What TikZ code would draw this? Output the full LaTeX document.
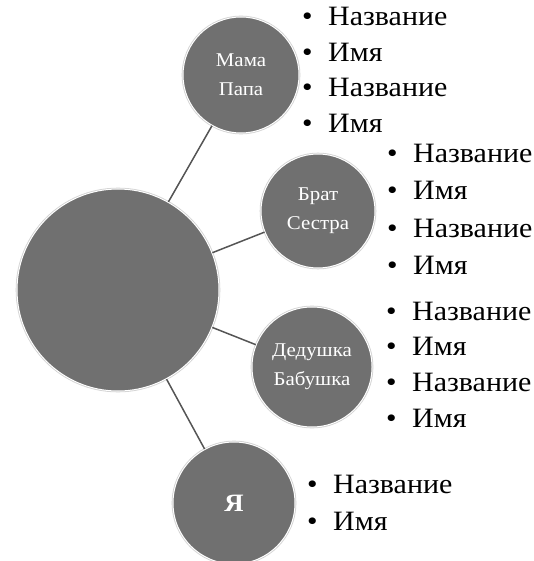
\documentclass[tikz,border=0pt]{standalone}
\usepackage{fontspec}
\setmainfont{Liberation Serif}[FakeStretch=1.07]
\usepackage{tikz}
\usetikzlibrary{positioning}
\definecolor{ballgray}{RGB}{112,112,112}
\definecolor{linkgray}{RGB}{85,85,85}
\tikzset{
  ball/.style={circle, fill=ballgray, draw=white, line width=1pt, inner sep=0pt,
               preaction={draw=black!18, line width=2.6pt}, % soft rim
               text=white, align=center, font=\fontsize{19.5}{29}\selectfont},
  link/.style={draw=linkgray, line width=1.5pt},
  item/.style={anchor=base west, inner sep=0pt, font=\fontsize{28}{36}\selectfont},
}
\newcommand{\bul}[1]{\makebox[26pt][l]{\textbullet}#1}

\begin{document}
\begin{tikzpicture}[x=1pt, y=-1pt]
\useasboundingbox (0,0) rectangle (534,561);
%Nodes
\node[ball, minimum size=202pt] (me0) at (118,290) {};
\node[ball, minimum size=116pt] (parents) at (241,75) {Мама\\Папа};
\node[ball, minimum size=114pt] (siblings) at (318,211) {Брат\\Сестра};
\node[ball, minimum size=120pt] (grand) at (312,367) {Дедушка\\Бабушка};
\node[ball, minimum size=122pt, font=\fontsize{25}{28}\selectfont\bfseries] (me) at (234,503) {Я};

%Lists
\foreach \t [count=\i] in {Название,Имя,Название,Имя}{
  \node[item] (parents\i) at (302, 26+35.5*\i-35.5) {\bul{\t}};
  \node[item] (siblings\i) at (387, 163+37*\i-37) {\bul{\t}};
  \node[item] (grand\i) at (386, 320+35.7*\i-35.7) {\bul{\t}};
}
\node[item] (me1) at (307,493) {\bul{Название}};
\node[item] (me2) at (307,530) {\bul{Имя}};

%Lines
\draw[link] (me0) -- (parents);
\draw[link] (me0) -- (siblings);
\draw[link] (me0) -- (grand);
\draw[link] (me0) -- (me);
\end{tikzpicture}
\end{document}
